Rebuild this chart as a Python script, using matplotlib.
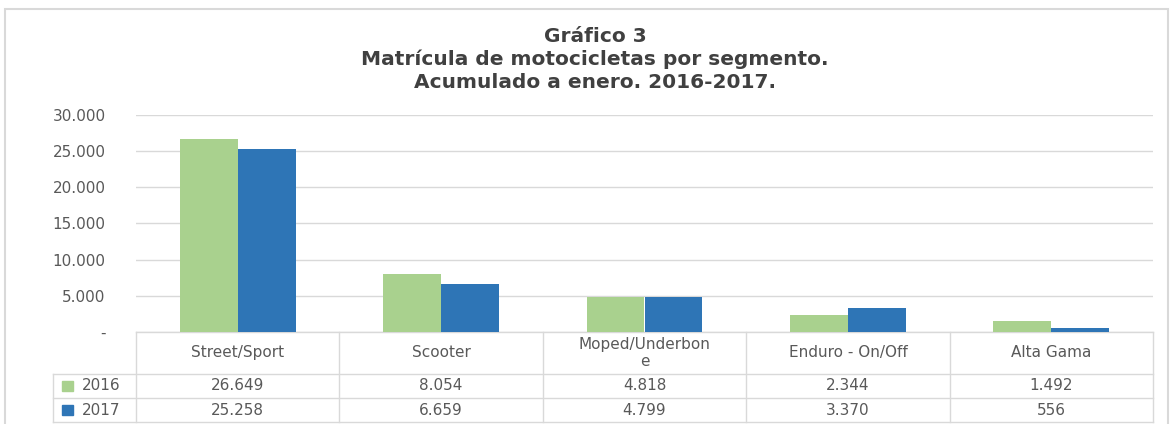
import numpy as np
import matplotlib.pyplot as plt
from matplotlib.patches import Rectangle
from matplotlib.transforms import blended_transform_factory

categories = ['Street/Sport', 'Scooter', 'Moped/Underbon\ne', 'Enduro - On/Off', 'Alta Gama']
years = ['2016', '2017']
v2016 = [26649, 8054, 4818, 2344, 1492]
v2017 = [25258, 6659, 4799, 3370, 556]
yticks = [0, 5000, 10000, 15000, 20000, 25000, 30000]

green = '#A9D18E'
blue = '#2E75B6'
grid = '#D9D9D9'
txt = '#595959'
fs = 11

def fmt(v):
    # miles con punto, cero como guion
    if v == 0:
        return '-'
    return f'{v:,}'.replace(',', '.')

fig = plt.figure(figsize=(11.71, 4.24), dpi=100)
W, H = 1171, 424
ax = fig.add_axes([136 / W, (H - 332) / H, (1153 - 136) / W, (332 - 115) / H])

x = np.arange(len(categories))
bw = 0.285
ax.bar(x - bw / 2, v2016, bw, color=green, zorder=3)
ax.bar(x + bw / 2, v2017, bw, color=blue, zorder=3)

ax.set_xlim(-0.5, len(categories) - 0.5)
ax.set_ylim(0, 30000)
ax.set_yticks(yticks)
ax.set_yticklabels([fmt(t) for t in yticks], color=txt, fontsize=fs)
ax.yaxis.grid(True, color=grid, linewidth=1, zorder=0)
ax.tick_params(axis='y', length=0, pad=22)
ax.set_xticks([])
for s in ax.spines.values():
    s.set_visible(False)

# data table under the axis
tr = blended_transform_factory(ax.transData, ax.transAxes)
rows_y = [0, -0.1935, -0.304, -0.415]
xl = -0.908
lk = dict(color=grid, linewidth=1, transform=tr, clip_on=False)
ax.plot([-0.5, 4.5], [rows_y[0]] * 2, **lk)
for yy in rows_y[1:]:
    ax.plot([xl, 4.5], [yy, yy], **lk)
for xx in np.arange(-0.5, 5.0, 1.0):
    ax.plot([xx, xx], [rows_y[0], rows_y[3]], **lk)
ax.plot([xl, xl], [rows_y[1], rows_y[3]], **lk)

for i, c in enumerate(categories):
    ax.text(i, (rows_y[0] + rows_y[1]) / 2, c, transform=tr, ha='center', va='center',
            color=txt, fontsize=fs, linespacing=1.15)
    ax.text(i, (rows_y[1] + rows_y[2]) / 2, fmt(v2016[i]), transform=tr, ha='center',
            va='center', color=txt, fontsize=fs)
    ax.text(i, (rows_y[2] + rows_y[3]) / 2, fmt(v2017[i]), transform=tr, ha='center',
            va='center', color=txt, fontsize=fs)

for k, (yr, col) in enumerate(zip(years, [green, blue])):
    yc = (rows_y[k + 1] + rows_y[k + 2]) / 2
    ax.add_patch(Rectangle((xl + 0.045, yc - 0.025), 0.055, 0.05, color=col,
                           transform=tr, clip_on=False))
    ax.text(xl + 0.14, yc, yr, transform=tr, ha='left', va='center', color=txt, fontsize=fs)

# title
title = ['Gráfico 3', 'Matrícula de motocicletas por segmento.', 'Acumulado a enero. 2016-2017.']
for j, t in enumerate(title):
    fig.text(595 / W, 1 - (37 + 22.5 * j) / H, t, ha='center', va='center',
             color='#404040', fontsize=14.5, fontweight='bold')

# chart border
fig.patches.append(Rectangle((5 / W, -0.01), 1163 / W, 1 - 9 / H + 0.01, fill=False,
                             edgecolor=grid, linewidth=1.5, transform=fig.transFigure))

fig.savefig('out.png', dpi=100)
